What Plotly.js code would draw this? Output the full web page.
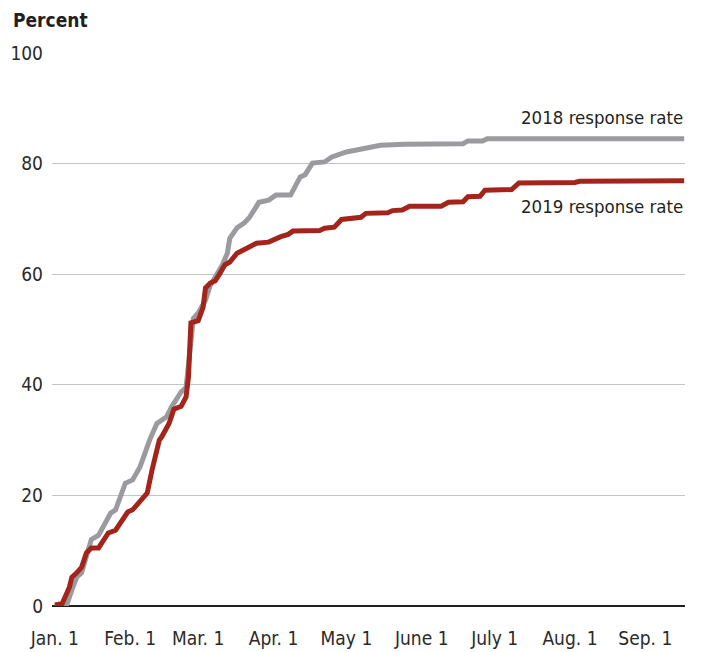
<!DOCTYPE html>
<html>
<head>
<meta charset="utf-8">
<script src="https://cdn.plot.ly/plotly-3.0.1.min.js"></script>
<style>html,body{margin:0;padding:0;background:#fff;}#chart{width:701px;height:652px;}</style>
</head>
<body>
<div id="chart"></div>
<script>
const dates2018 = ['2019-01-01','2019-01-06','2019-01-08','2019-01-10','2019-01-12','2019-01-16','2019-01-19','2019-01-24','2019-01-26','2019-01-28','2019-01-30','2019-02-02','2019-02-05','2019-02-07','2019-02-09','2019-02-12','2019-02-16','2019-02-18','2019-02-21','2019-02-22','2019-02-24','2019-02-27','2019-03-01','2019-03-04','2019-03-06','2019-03-09','2019-03-11','2019-03-13','2019-03-14','2019-03-17','2019-03-20','2019-03-22','2019-03-24','2019-03-26','2019-03-30','2019-04-02','2019-04-08','2019-04-10','2019-04-12','2019-04-14','2019-04-17','2019-04-22','2019-04-25','2019-05-01','2019-05-10','2019-05-15','2019-05-25','2019-06-18','2019-06-20','2019-06-26','2019-06-28','2019-09-17'];
const values2018 = [0,0.3,2.9,5.2,6,12,12.8,16.8,17.4,19.7,22.2,22.8,25.1,27.5,30,33,34.2,36,38.3,38.7,39.5,52,53,55.3,58,60.2,61.7,63.8,66.5,68.4,69.3,70.2,71.6,73,73.4,74.3,74.3,76.1,77.6,78,80.1,80.3,81.2,82.1,83,83.3,83.5,83.6,84.1,84.1,84.5,84.5];

const dates2019 = ['2019-01-01','2019-01-04','2019-01-07','2019-01-08','2019-01-10','2019-01-12','2019-01-14','2019-01-16','2019-01-19','2019-01-23','2019-01-26','2019-01-29','2019-01-31','2019-02-02','2019-02-06','2019-02-08','2019-02-10','2019-02-13','2019-02-14','2019-02-17','2019-02-19','2019-02-22','2019-02-24','2019-02-25','2019-02-26','2019-03-01','2019-03-03','2019-03-04','2019-03-06','2019-03-08','2019-03-10','2019-03-12','2019-03-14','2019-03-17','2019-03-21','2019-03-25','2019-03-30','2019-04-01','2019-04-04','2019-04-07','2019-04-09','2019-04-20','2019-04-22','2019-04-26','2019-04-29','2019-05-07','2019-05-09','2019-05-18','2019-05-20','2019-05-24','2019-05-27','2019-06-09','2019-06-12','2019-06-18','2019-06-20','2019-06-25','2019-06-27','2019-07-08','2019-07-11','2019-08-03','2019-08-05','2019-09-17'];
const values2019 = [0.2,0.4,3.4,5.2,6,7,9.6,10.5,10.5,13.2,13.7,15.9,17,17.4,19.5,20.4,24.6,30,30.6,33,35.6,36.1,37.8,41.4,51.2,51.6,54,57.5,58.4,58.8,60.2,61.7,62.2,63.8,64.7,65.6,65.8,66.3,66.8,67.2,67.8,67.9,68.3,68.5,69.9,70.3,71,71.1,71.5,71.6,72.3,72.3,73,73.1,74,74.1,75.2,75.3,76.5,76.6,76.8,76.9];

const tickDates = ['2019-01-01','2019-02-01','2019-03-01','2019-04-01','2019-05-01','2019-06-01','2019-07-01','2019-08-01','2019-09-01'];
const tickLabels = ['Jan. 1','Feb. 1','Mar. 1','Apr. 1','May 1','June 1','July 1','Aug. 1','Sep. 1'];
const yTicks = [0, 20, 40, 60, 80, 100];
const seriesNames = ['2018 response rate','2019 response rate'];

const FONT = '"Liberation Sans Narrow", "DejaVu Sans Condensed", "Roboto Condensed", "Liberation Sans", sans-serif';

const traces = [
  {x: dates2018, y: values2018, name: seriesNames[0], mode: 'lines', type: 'scatter',
   line: {color: '#9b9b9f', width: 5, shape: 'linear'}},
  {x: dates2019, y: values2019, name: seriesNames[1], mode: 'lines', type: 'scatter',
   line: {color: '#a3241a', width: 5, shape: 'linear'}}
];

const layout = {
  width: 701, height: 652,
  margin: {l: 52, r: 16, t: 53, b: 46},
  paper_bgcolor: '#fff', plot_bgcolor: '#fff',
  showlegend: false,
  font: {family: FONT, color: '#333', size: 19},
  xaxis: {
    type: 'date',
    range: ['2018-12-30 20:00', '2019-09-17 08:00'],
    tickvals: tickDates, ticktext: tickLabels,
    showgrid: false, zeroline: false, showline: false,
    ticks: '', ticklabelstandoff: 19,
    tickfont: {family: FONT, size: 19, color: '#2a2a2a'}
  },
  yaxis: {
    range: [0, 100],
    tickvals: yTicks,
    showgrid: true, gridcolor: '#c4c4c4', gridwidth: 1,
    zeroline: true, zerolinecolor: '#231f20', zerolinewidth: 2.5,
    showline: false, ticks: '', ticklabelstandoff: 8,
    tickfont: {family: FONT, size: 19, color: '#2a2a2a'}
  },
  annotations: [
    {text: '<b>Percent</b>', xref: 'paper', yref: 'paper', x: -41/633, y: 1 + 33/553,
     xanchor: 'left', yanchor: 'middle', showarrow: false,
     font: {family: FONT, size: 19, color: '#231f20'}},
    {text: seriesNames[0], xref: 'paper', yref: 'y', x: 1, y: 88.3,
     xanchor: 'right', yanchor: 'middle', showarrow: false,
     font: {family: FONT, size: 18.5, color: '#231f20'}},
    {text: seriesNames[1], xref: 'paper', yref: 'y', x: 1, y: 72.2,
     xanchor: 'right', yanchor: 'middle', showarrow: false,
     font: {family: FONT, size: 18.5, color: '#231f20'}}
  ]
};

Plotly.newPlot('chart', traces, layout, {displayModeBar: false, staticPlot: true});
</script>
</body>
</html>
